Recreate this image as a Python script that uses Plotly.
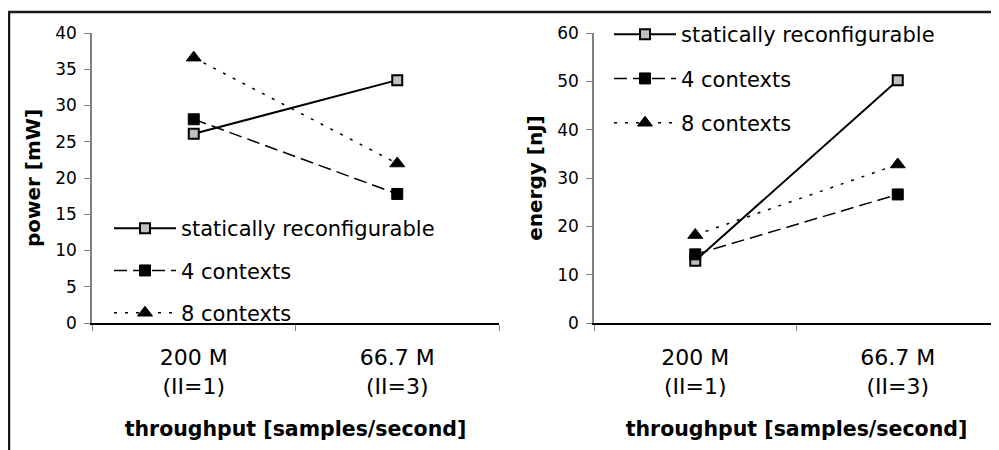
import plotly.graph_objects as go

categories = ["200 M<br>(II=1)", "66.7 M<br>(II=3)"]
series_names = ["statically reconfigurable", "4 contexts", "8 contexts"]

power_static = [26.1, 33.5]
power_4ctx = [28.1, 17.8]
power_8ctx = [36.6, 22.0]

energy_static = [12.9, 50.2]
energy_4ctx = [14.2, 26.6]
energy_8ctx = [18.2, 32.8]

# the page body has an 8px margin, so the figure is drawn 8px in from the window corner
OFF = 8
W, H = 999 - OFF, 450 - OFF
FONT = "DejaVu Sans, sans-serif"


def px(xp):
    return (xp - OFF) / W


def py(yp):
    return 1 - (yp - OFF) / H


styles = [
    dict(line=dict(color="black", width=2, dash="solid"),
         marker=dict(symbol="square", size=10, color="#c0c0c0", line=dict(color="black", width=2))),
    dict(line=dict(color="black", width=1.5, dash="13px,6px"),
         marker=dict(symbol="square", size=11, color="black", line=dict(color="black", width=1))),
    dict(line=dict(color="black", width=1.5, dash="3px,8px"),
         marker=dict(symbol="triangle-up", size=13, color="black", line=dict(color="black", width=1))),
]

fig = go.Figure()
for vals, name, st in zip([power_static, power_4ctx, power_8ctx], series_names, styles):
    fig.add_trace(go.Scatter(x=categories, y=vals, name=name, mode="lines+markers",
                             xaxis="x", yaxis="y", legend="legend", legendgroup="a" + name, **st))
for vals, name, st in zip([energy_static, energy_4ctx, energy_8ctx], series_names, styles):
    fig.add_trace(go.Scatter(x=categories, y=vals, name=name, mode="lines+markers",
                             xaxis="x2", yaxis="y2", legend="legend2", legendgroup="b" + name, **st))

ydom = [py(323), py(33)]

xcommon = dict(type="category", categoryorder="array", categoryarray=categories,
               range=[-0.5, 1.5], tickson="boundaries", ticks="outside", ticklen=6,
               tickcolor="#808080", showline=True, linecolor="black", linewidth=1.5,
               showgrid=False, zeroline=False, automargin=False, ticklabelstandoff=14,
               tickfont=dict(family=FONT, size=22, color="black"),
               title=dict(text="<b>throughput [samples/second]</b>", standoff=24,
                          font=dict(family=FONT, size=20.5, color="black")))
ycommon = dict(ticks="outside", ticklen=6, tickcolor="#808080", showline=True,
               linecolor="#808080", linewidth=1.5, showgrid=False, zeroline=False,
               automargin=False,
               tickfont=dict(family=FONT, size=17, color="black"), ticklabelstandoff=4)

legcommon = dict(bgcolor="rgba(0,0,0,0)", borderwidth=0, font=dict(family=FONT, size=21, color="black"),
                 itemwidth=62, xanchor="left", yanchor="top", traceorder="grouped")

fig.update_layout(
    width=W, height=H,
    margin=dict(l=0, r=0, t=0, b=0, autoexpand=False),
    paper_bgcolor="white", plot_bgcolor="white",
    showlegend=True,
    xaxis=dict(domain=[px(92), px(499)], anchor="y", **xcommon),
    yaxis=dict(domain=ydom, anchor="x", range=[0, 40], dtick=5,
               title=dict(text="<b>power [mW]</b>", standoff=9, font=dict(family=FONT, size=20, color="black")),
               **ycommon),
    xaxis2=dict(domain=[px(594), 1.0], anchor="y2", **xcommon),
    yaxis2=dict(domain=ydom, anchor="x2", range=[0, 60], dtick=10,
                title=dict(text="<b>energy [nJ]</b>", standoff=9, font=dict(family=FONT, size=20, color="black")),
                **ycommon),
    legend=dict(x=px(109), y=py(208), tracegroupgap=12, **legcommon),
    legend2=dict(x=px(609), y=py(14), tracegroupgap=14, **legcommon),
    shapes=[
        dict(type="line", xref="paper", yref="paper", x0=0, x1=1.0, y0=py(12), y1=py(12),
             line=dict(color="#1a1a1a", width=2.5)),
        dict(type="line", xref="paper", yref="paper", x0=1 / W, x1=1 / W, y0=0, y1=py(12),
             line=dict(color="#1a1a1a", width=2.5)),
    ],
)

fig.write_html("out.html")
